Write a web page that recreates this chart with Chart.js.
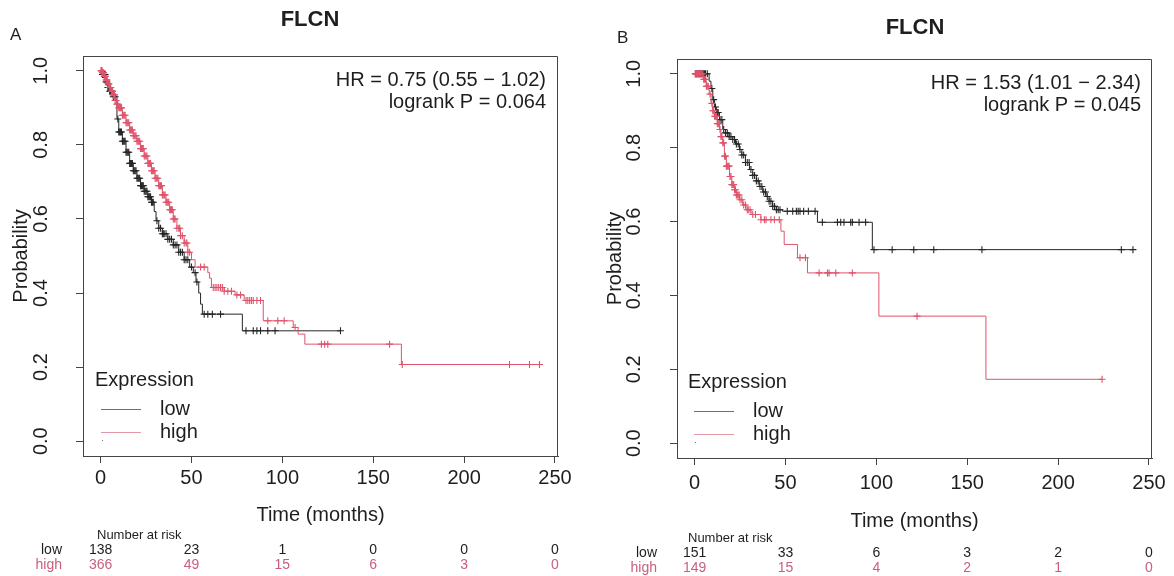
<!DOCTYPE html>
<html><head><meta charset="utf-8">
<script src="https://cdn.jsdelivr.net/npm/chart.js@4/dist/chart.umd.min.js"></script>
<style>
html,body{margin:0;padding:0;background:#fff;width:1174px;height:576px;overflow:hidden}
canvas{position:absolute;top:0}
#ca{left:0}
#cb{left:590px}
</style></head><body>
<canvas id="ca" width="590" height="576"></canvas>
<canvas id="cb" width="584" height="576"></canvas>
<script>
// ---------- data ----------
const xTicks = [0, 50, 100, 150, 200, 250];
const yTicks = [0, 0.2, 0.4, 0.6, 0.8, 1.0];
const yTickLabels = ["0.0", "0.2", "0.4", "0.6", "0.8", "1.0"];
const groupNames = ["low", "high"];

// Panel A
const aLowT = [0,1,3,4,5,7,9,10,12,14,16,18,20,22,24,26,28,29.5,30.5,32,34,37,40,43,46,49,51,52.5,54,55,56,78,132];
const aLowS = [1,0.99,0.97,0.955,0.945,0.93,0.87,0.835,0.81,0.78,0.75,0.73,0.71,0.69,0.675,0.66,0.645,0.62,0.595,0.575,0.56,0.545,0.53,0.51,0.49,0.47,0.455,0.43,0.40,0.37,0.343,0.298,0.298];
const aLowC = [0.5,1,1.5,2,2.5,3,3.5,4,4.5,5,5.5,6,6.5,7,8,9.5,10,10.5,11,11.5,12,12.5,13,13.5,14,14.5,15,15.5,16,16.5,17,17.5,18,18.5,19,19.5,20,20.5,21,21.5,22,22.5,23,23.5,24,24.5,25,25.5,26,26.5,27,27.5,28,28.5,29,31,32,33,34,34.5,35,36,37,38,39,40,41,42,43,44,45,46,47,48,50,52,53,57,59,61.5,66,80,84,86,88,92,96,132];
const aHighT = [0,1,2,3,4,5,6,7,8,9,10,12,14,16,18,20,22,24,26,28,30,32,34,36,38,40,42,44,46,48,50,52,59,60,61,68,74,79,89.5,106,108.7,112.4,165.5,241.5];
const aHighS = [1,0.995,0.985,0.975,0.965,0.955,0.945,0.935,0.92,0.91,0.9,0.88,0.86,0.84,0.825,0.81,0.79,0.77,0.75,0.73,0.71,0.69,0.665,0.645,0.625,0.60,0.575,0.555,0.535,0.51,0.49,0.47,0.455,0.44,0.415,0.405,0.395,0.38,0.325,0.307,0.289,0.262,0.207,0.207];
const aHighC = [0.2,0.5,0.8,1,1.3,1.6,2,2.3,2.6,3,3.3,3.6,4,4.3,4.6,5,5.3,5.6,6,6.3,6.6,7,7.3,7.6,8,8.5,9,9.5,10,10.5,11,11.5,12,12.5,13,13.5,14,14.5,15,15.5,16,16.5,17,17.5,18,18.5,19,19.5,20,20.5,21,21.5,22,22.5,23,23.5,24,24.5,25,25.5,26,26.5,27,27.5,28,28.5,29,29.5,30,30.5,31,31.5,32,32.5,33,33.5,34,34.5,35,35.5,36,36.5,37,37.5,38,38.5,39,39.5,40,40.5,41,42,43,43.5,44,45,46,47,47.5,48,49,55,57,62,63,64,65,66,67,68,70,72,75,77,80,81,82,83,84,86,88,92,97.5,101,107,121.5,123.3,125,159,166,225,236,241.5];
const aRiskLow = [138, 23, 1, 0, 0, 0];
const aRiskHigh = [366, 49, 15, 6, 3, 0];
const aStats = ["HR = 0.75 (0.55 \u2212 1.02)", "logrank P = 0.064"];

// Panel B
const bLowT = [0,8,9,10,11,12,13.7,15.5,17,19,21,22.5,24.7,26,28,30.2,32,34,35.6,37.5,39.3,41,42.9,45,48.4,67.6,97.8,241.2];
const bLowS = [1,0.98,0.96,0.93,0.91,0.895,0.876,0.849,0.84,0.83,0.822,0.81,0.795,0.78,0.76,0.741,0.725,0.71,0.695,0.68,0.668,0.655,0.641,0.632,0.628,0.598,0.524,0.524];
const bLowC = [0.5,1,1.5,2,2.5,3,3.5,4,4.5,5,5.5,6,7,9.5,10.5,11.5,12.5,13,14,15,16,17,18,19,20,21,22,23,24,25,26,27,28,29,30,31,32,33,34,35,36,37,38,39,40,41,42,43,44,45,46,47,51,54,56,57,58,60,62.6,66.3,70.3,78.6,80.4,82.2,85.9,86.8,90.5,94.1,98.7,108.7,120.6,131.6,158.1,234.8,241.2];
const bHighT = [0,5,6.4,8,9.1,10,11,12.5,13.7,14.5,15.5,16.4,17.5,19.2,20.5,21.9,23,24.7,26.5,28.3,31.1,36.5,47.5,49.3,56.6,62.1,101.4,160.3,224.2];
const bHighS = [1,0.985,0.966,0.945,0.92,0.9,0.885,0.865,0.849,0.83,0.813,0.777,0.75,0.722,0.70,0.686,0.672,0.659,0.645,0.632,0.619,0.605,0.574,0.538,0.502,0.461,0.344,0.173,0.173];
const bHighC = [0.3,0.6,1,1.3,1.6,2,2.3,2.6,3,3.5,4,4.5,5,5.5,6,6.5,7,7.5,8.5,9.5,10,10.5,11,11.5,12,12.5,13,13.5,14,14.5,15,15.5,16,16.5,17,17.5,18,18.5,19,19.5,20,20.5,21,21.5,22,22.5,23,23.5,24,24.5,25,26,27,28,29,29.5,30.5,32,33.5,36.5,38.4,39.3,42,43.9,46.6,58,61,68.5,73.1,74,77.7,86.8,122.4,224.2];
const bRiskLow = [151, 33, 6, 3, 2, 0];
const bRiskHigh = [149, 15, 4, 2, 1, 0];
const bStats = ["HR = 1.53 (1.01 \u2212 2.34)", "logrank P = 0.045"];

// ---------- styling ----------
const FONT = '"Liberation Sans", Arial, Helvetica, sans-serif';
const AXIS = '#444444';
const TXT = '#1e1e1e';
const LOWC = '#262626';
const HIGHC = '#DF536B';
const HIGH_TXT = '#C8607E';

function pts(T, S) { return T.map((t, i) => ({ x: t, y: S[i] })); }
function stepAt(T, S, t) { let v = S[0]; for (let i = 0; i < T.length; i++) { if (T[i] <= t) v = S[i]; else break; } return v; }
function cens(C, T, S) { return C.map(t => ({ x: t, y: stepAt(T, S, t) })); }

function decor(o) {
  return {
    id: 'decor',
    afterDraw(chart) {
      const ctx = chart.ctx, a = chart.chartArea, xs = chart.scales.x, ys = chart.scales.y;
      ctx.save();
      // box (top and right; left/bottom are the library's axis borders)
      ctx.strokeStyle = AXIS; ctx.lineWidth = 1;
      ctx.beginPath();
      ctx.moveTo(Math.round(a.left) + 0.5, Math.round(a.top) + 0.5);
      ctx.lineTo(Math.round(a.right) - 0.5, Math.round(a.top) + 0.5);
      ctx.lineTo(Math.round(a.right) - 0.5, Math.round(a.bottom) + 0.5);
      ctx.stroke();
      ctx.fillStyle = TXT;
      // x tick labels
      ctx.font = '20px ' + FONT; ctx.textAlign = 'center'; ctx.textBaseline = 'middle';
      xTicks.forEach(v => ctx.fillText(String(v), xs.getPixelForValue(v), o.xLabY));
      // y tick labels rotated
      yTicks.forEach((v, i) => {
        ctx.save(); ctx.translate(o.yLabX, ys.getPixelForValue(v)); ctx.rotate(-Math.PI / 2);
        ctx.fillText(yTickLabels[i], 0, 0); ctx.restore();
      });
      // axis titles
      ctx.fillText('Time (months)', (a.left + a.right) / 2, o.xTitleY);
      ctx.save(); ctx.translate(o.yTitleX, (a.top + a.bottom) / 2); ctx.rotate(-Math.PI / 2);
      ctx.fillText('Probability', 0, 0); ctx.restore();
      // main title
      ctx.font = 'bold 22px ' + FONT;
      ctx.fillText('FLCN', o.titleX, o.titleY);
      // panel letter
      ctx.font = '17px ' + FONT; ctx.textAlign = 'left';
      ctx.fillText(o.letter, o.letterX, o.letterY);
      // stats
      ctx.font = '20px ' + FONT; ctx.textAlign = 'right';
      ctx.fillText(o.stats[0], o.statsX, o.statsY);
      ctx.fillText(o.stats[1], o.statsX, o.statsY + 22);
      // legend
      ctx.textAlign = 'left';
      ctx.fillText('Expression', o.legX, o.legY);
      ctx.lineWidth = 1;
      ctx.strokeStyle = '#6f6f6f';
      ctx.beginPath(); ctx.moveTo(o.legX + 6, Math.round(o.legY + 29) + 0.5); ctx.lineTo(o.legX + 46, Math.round(o.legY + 29) + 0.5); ctx.stroke();
      ctx.strokeStyle = '#E29AA8';
      ctx.beginPath(); ctx.moveTo(o.legX + 6, Math.round(o.legY + 52) + 0.5); ctx.lineTo(o.legX + 46, Math.round(o.legY + 52) + 0.5); ctx.stroke();
      ctx.fillText(groupNames[0], o.legX + 65, o.legY + 29);
      ctx.fillText(groupNames[1], o.legX + 65, o.legY + 52);
      ctx.fillStyle = '#777'; ctx.fillRect(o.legX + 7, o.legY + 60, 1, 1);
      // number at risk
      ctx.fillStyle = TXT; ctx.font = '13px ' + FONT; ctx.textAlign = 'left';
      ctx.fillText('Number at risk', o.narX, o.narY);
      ctx.font = '14px ' + FONT; ctx.textAlign = 'right';
      ctx.fillText(groupNames[0], o.narLabX, o.narY + 15);
      ctx.fillStyle = HIGH_TXT;
      ctx.fillText(groupNames[1], o.narLabX, o.narY + 30);
      ctx.textAlign = 'center';
      xTicks.forEach((v, i) => {
        const px = xs.getPixelForValue(v);
        ctx.fillStyle = TXT; ctx.fillText(String(o.riskLow[i]), px, o.narY + 15);
        ctx.fillStyle = HIGH_TXT; ctx.fillText(String(o.riskHigh[i]), px, o.narY + 30);
      });
      ctx.restore();
    }
  };
}

function makeChart(id, d, pad, o) {
  const axisCommon = {
    type: 'linear',
    border: { display: true, color: AXIS, width: 1 },
    grid: { display: true, drawOnChartArea: false, drawTicks: true, tickLength: 7, color: AXIS, lineWidth: 1 },
    ticks: { display: false }
  };
  return new Chart(document.getElementById(id), {
    type: 'line',
    data: {
      datasets: [
        { label: 'high censored', data: cens(d.hc, d.ht, d.hs), showLine: false, pointStyle: 'cross', pointRadius: 3.5, pointBorderWidth: 1.1, borderColor: HIGHC, pointBorderColor: HIGHC, pointHoverRadius: 3.5 },
        { label: 'high', data: pts(d.ht, d.hs), stepped: true, borderColor: HIGHC, borderWidth: 1, pointRadius: 0, fill: false },
        { label: 'low censored', data: cens(d.lc, d.lt, d.ls), showLine: false, pointStyle: 'cross', pointRadius: 3.5, pointBorderWidth: 1.1, borderColor: LOWC, pointBorderColor: LOWC, pointHoverRadius: 3.5 },
        { label: 'low', data: pts(d.lt, d.ls), stepped: true, borderColor: LOWC, borderWidth: 1, pointRadius: 0, fill: false }
      ]
    },
    options: {
      responsive: false, animation: false, devicePixelRatio: 1,
      layout: { padding: pad },
      plugins: { legend: { display: false }, title: { display: false }, tooltip: { enabled: false } },
      scales: {
        x: Object.assign({}, axisCommon, { min: -9.68, max: 251.68,
          afterBuildTicks: s => { s.ticks = xTicks.map(v => ({ value: v })); },
          afterFit: s => { s.height = 7; } }),
        y: Object.assign({}, axisCommon, { min: -0.04, max: 1.04,
          afterBuildTicks: s => { s.ticks = yTicks.map(v => ({ value: v })); },
          afterFit: s => { s.width = 7; } })
      }
    },
    plugins: [decor(o)]
  });
}

makeChart('ca',
  { lt: aLowT, ls: aLowS, lc: aLowC, ht: aHighT, hs: aHighS, hc: aHighC },
  { left: 76, right: 32, top: 56, bottom: 113 },
  { letter: 'A', letterX: 10, letterY: 35, titleX: 310, titleY: 20, stats: aStats, statsX: 546, statsY: 80,
    xLabY: 478, yLabX: 41, xTitleY: 515, yTitleX: 21, legX: 95, legY: 380,
    narX: 97, narY: 535, narLabX: 62, riskLow: aRiskLow, riskHigh: aRiskHigh });

makeChart('cb',
  { lt: bLowT, ls: bLowS, lc: bLowC, ht: bHighT, hs: bHighS, hc: bHighC },
  { left: 80, right: 22, top: 59, bottom: 111 },
  { letter: 'B', letterX: 27, letterY: 38, titleX: 325, titleY: 28, stats: bStats, statsX: 551, statsY: 83,
    xLabY: 483, yLabX: 44, xTitleY: 521, yTitleX: 25, legX: 98, legY: 382,
    narX: 98, narY: 538, narLabX: 67, riskLow: bRiskLow, riskHigh: bRiskHigh });
</script>
</body></html>
